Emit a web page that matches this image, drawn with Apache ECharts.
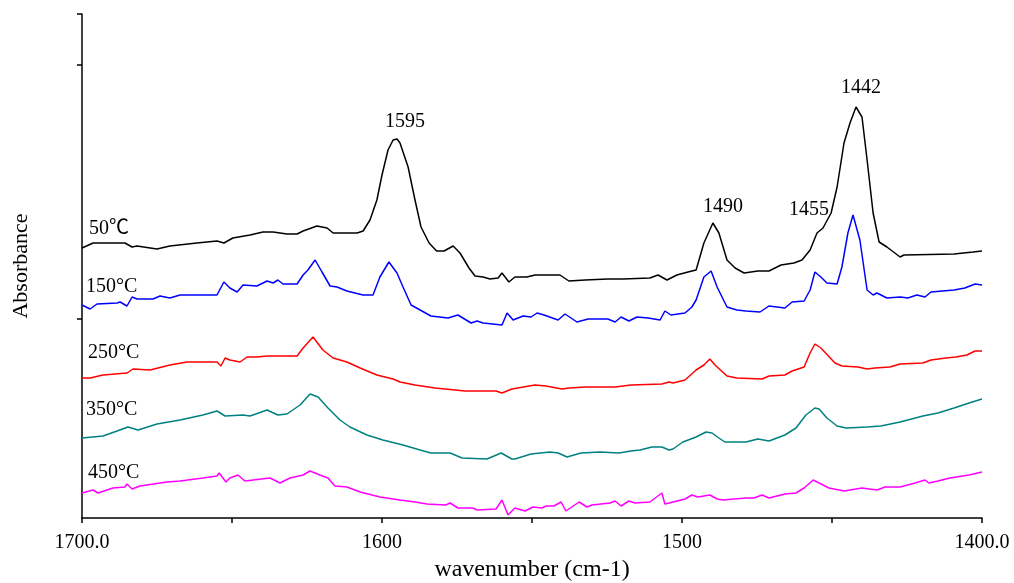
<!DOCTYPE html>
<html>
<head>
<meta charset="utf-8">
<script src="https://cdn.jsdelivr.net/npm/echarts@6/dist/echarts.min.js"></script>
<style>html,body{margin:0;padding:0;background:#fff;}#c{width:1014px;height:583px;}</style>
</head>
<body>
<div id="c"></div>
<script>
// Spectra: [wavenumber (cm-1), absorbance (offset, arbitrary units)]
const s50 = [[1700,2.70],[1696.3,2.75],[1685.7,2.75],[1683.3,2.71],[1681.7,2.72],[1675,2.69],[1670.7,2.72],[1661.7,2.75],[1655,2.77],[1652.7,2.75],[1649.7,2.80],[1644,2.83],[1639.7,2.86],[1636.3,2.86],[1631.7,2.84],[1628.3,2.84],[1626.3,2.87],[1621.7,2.92],[1618.3,2.90],[1616.3,2.85],[1608.3,2.85],[1606.3,2.87],[1604,2.98],[1601.7,3.18],[1600,3.43],[1598,3.68],[1596.3,3.78],[1595,3.79],[1594,3.75],[1591.3,3.51],[1589,3.18],[1587,2.91],[1584.3,2.75],[1581.8,2.67],[1579.3,2.67],[1576.3,2.72],[1574,2.65],[1571,2.50],[1569,2.42],[1566.3,2.41],[1564,2.39],[1561.3,2.40],[1560,2.45],[1557.7,2.36],[1555.7,2.41],[1551.7,2.41],[1549,2.43],[1540.7,2.43],[1537.7,2.37],[1532.3,2.38],[1524.7,2.39],[1519.7,2.39],[1510.7,2.40],[1508,2.43],[1505,2.38],[1501.7,2.43],[1498,2.46],[1495.3,2.48],[1492.7,2.75],[1489.7,2.95],[1487.7,2.85],[1485,2.58],[1482.3,2.50],[1479.3,2.45],[1474.7,2.47],[1471,2.47],[1467,2.53],[1462.7,2.55],[1460,2.58],[1457.3,2.68],[1455,2.85],[1453,2.90],[1450.3,3.05],[1448.3,3.31],[1446,3.75],[1444,3.95],[1442,4.11],[1440,4.01],[1438.3,3.58],[1436.3,3.05],[1434.3,2.76],[1431.7,2.71],[1427.3,2.61],[1426,2.63],[1409.3,2.64],[1403,2.66],[1400,2.67]];
const s150 = [[1700,2.13],[1697.3,2.09],[1695,2.14],[1688.3,2.15],[1687.3,2.16],[1685,2.12],[1683.3,2.21],[1681.7,2.19],[1676.3,2.19],[1674,2.22],[1670.7,2.20],[1667.3,2.23],[1655,2.23],[1652.7,2.36],[1650.7,2.30],[1648.3,2.26],[1646.3,2.33],[1641.7,2.32],[1638.3,2.37],[1636.3,2.35],[1634.7,2.38],[1633,2.34],[1628.3,2.34],[1626.3,2.43],[1624.7,2.48],[1622.3,2.58],[1620,2.46],[1617.3,2.32],[1615,2.31],[1611.7,2.27],[1606.3,2.23],[1603,2.23],[1600.7,2.41],[1597.7,2.56],[1595,2.45],[1593,2.31],[1590.3,2.13],[1583.7,2.02],[1578,2.00],[1574.7,2.03],[1570.3,1.95],[1568.3,1.97],[1566.3,1.95],[1560,1.93],[1558.3,2.05],[1556.3,1.98],[1553,2.02],[1550.3,2.01],[1548.3,2.05],[1546,2.03],[1541.3,1.98],[1539,2.04],[1535,1.96],[1531.3,1.99],[1524.7,1.99],[1522.3,1.96],[1520.3,2.01],[1517.7,1.97],[1515,2.01],[1511.3,2.00],[1507.3,1.98],[1505.7,2.07],[1503.7,2.03],[1499,2.05],[1496.7,2.11],[1495.3,2.18],[1492.7,2.41],[1490.3,2.47],[1488.3,2.31],[1485,2.11],[1481.7,2.08],[1478.7,2.07],[1474,2.06],[1471,2.12],[1465.7,2.10],[1463.3,2.16],[1459.3,2.17],[1457.3,2.28],[1455.7,2.46],[1453.7,2.41],[1451.7,2.35],[1448.3,2.34],[1446.7,2.51],[1444.7,2.85],[1443,3.03],[1440.7,2.78],[1438.3,2.28],[1436.3,2.23],[1435,2.25],[1431.7,2.20],[1427.3,2.21],[1424.7,2.20],[1421.7,2.23],[1419,2.21],[1417,2.26],[1409.3,2.28],[1405.7,2.30],[1402.3,2.34],[1400,2.33]];
const s250 = [[1700,1.40],[1697.3,1.40],[1693,1.43],[1685,1.45],[1683,1.49],[1677.3,1.48],[1670.7,1.53],[1665,1.56],[1655,1.56],[1653.7,1.52],[1652.3,1.60],[1650.7,1.58],[1647.3,1.56],[1645,1.61],[1641.7,1.61],[1638.3,1.62],[1631.7,1.62],[1628.3,1.62],[1626.3,1.70],[1623,1.81],[1619.7,1.68],[1616.3,1.60],[1611.7,1.56],[1607.3,1.50],[1601.7,1.43],[1596.3,1.39],[1594,1.36],[1589,1.33],[1582.3,1.30],[1572.3,1.27],[1562,1.27],[1560,1.25],[1556.7,1.29],[1549,1.33],[1545.3,1.32],[1540,1.29],[1537.7,1.30],[1532.3,1.31],[1522.3,1.31],[1517,1.33],[1506.7,1.34],[1504.3,1.36],[1503,1.35],[1499,1.38],[1495.3,1.48],[1492.7,1.53],[1490.7,1.59],[1489,1.53],[1485,1.42],[1481.7,1.40],[1473.3,1.39],[1471,1.42],[1465.7,1.43],[1463.3,1.47],[1459.3,1.51],[1457.3,1.65],[1455.7,1.74],[1453.7,1.70],[1449,1.55],[1446.7,1.52],[1441.3,1.51],[1438.3,1.49],[1435.7,1.50],[1430.7,1.51],[1427.3,1.54],[1419.7,1.55],[1417,1.58],[1412,1.60],[1408.7,1.61],[1405,1.63],[1402.3,1.67],[1400,1.67]];
const s350 = [[1700,0.80],[1693,0.82],[1688.3,0.87],[1684.7,0.91],[1681.3,0.88],[1675,0.94],[1667.3,0.98],[1659.7,1.03],[1655,1.07],[1652.3,1.02],[1646.3,1.03],[1644,1.02],[1638.3,1.08],[1634.7,1.03],[1631.7,1.04],[1627.3,1.13],[1624,1.24],[1621.3,1.21],[1618,1.10],[1614,0.98],[1610.7,0.91],[1605,0.83],[1599.7,0.78],[1593,0.73],[1587.3,0.68],[1583.7,0.65],[1577.3,0.65],[1573.3,0.60],[1565,0.59],[1560.3,0.65],[1556.7,0.59],[1555.7,0.59],[1550.3,0.64],[1544,0.66],[1541.3,0.65],[1538.3,0.61],[1533.7,0.65],[1527.3,0.66],[1521,0.65],[1517,0.67],[1514,0.68],[1510,0.71],[1506.7,0.71],[1504.3,0.68],[1503,0.69],[1499.7,0.76],[1495.3,0.81],[1492,0.86],[1490,0.85],[1487.7,0.80],[1485.7,0.76],[1478.7,0.76],[1474.7,0.79],[1471,0.77],[1465.7,0.83],[1462,0.90],[1458.7,1.03],[1455.7,1.10],[1454.3,1.09],[1451.7,1.00],[1448.3,0.92],[1445.3,0.90],[1438.3,0.91],[1433.7,0.92],[1427.3,0.96],[1419.7,1.02],[1414.7,1.05],[1409.3,1.10],[1404.3,1.15],[1400,1.19]];
const s450 = [[1700,0.25],[1696.3,0.28],[1694.7,0.25],[1689.7,0.30],[1685.7,0.31],[1685,0.34],[1683.3,0.29],[1680.7,0.32],[1671.7,0.36],[1667.3,0.37],[1659.7,0.40],[1655,0.42],[1654.3,0.45],[1652,0.36],[1650.7,0.40],[1648,0.43],[1645.7,0.37],[1637.3,0.40],[1634,0.35],[1630.7,0.40],[1626.3,0.43],[1624,0.47],[1620.7,0.43],[1618,0.40],[1615.7,0.32],[1611.7,0.31],[1607.3,0.26],[1600.7,0.21],[1594,0.18],[1589,0.16],[1585,0.14],[1578.7,0.13],[1577.3,0.15],[1574.7,0.10],[1569.7,0.10],[1568.3,0.08],[1562,0.09],[1560,0.18],[1558,0.03],[1555.7,0.10],[1552.3,0.07],[1549.7,0.11],[1546.7,0.10],[1545.3,0.12],[1542.7,0.12],[1540.3,0.16],[1538.7,0.07],[1534.3,0.16],[1531.7,0.11],[1530,0.13],[1524,0.15],[1522.3,0.17],[1520.3,0.12],[1517.7,0.17],[1515.7,0.15],[1510.7,0.16],[1506.7,0.25],[1505.7,0.14],[1503,0.16],[1499,0.19],[1496.7,0.23],[1494.7,0.21],[1490.7,0.23],[1488.3,0.19],[1486.3,0.18],[1478.7,0.20],[1476,0.20],[1473.3,0.23],[1471,0.20],[1465.7,0.24],[1462,0.25],[1459.3,0.30],[1456.3,0.38],[1454.3,0.35],[1451,0.30],[1446,0.27],[1440,0.30],[1435,0.28],[1432.3,0.31],[1427.3,0.31],[1422.3,0.35],[1419,0.38],[1417.7,0.35],[1414.7,0.37],[1410.7,0.40],[1404.3,0.43],[1400,0.46]];

const seriesData = [s50, s150, s250, s350, s450];
const seriesColors = ['#000000', '#0000FF', '#FF0000', '#008080', '#FF00FF'];
const tempLabels = ['50℃', '150°C', '250°C', '350°C', '450°C'];
const tempLabelX = [1697.7, 1698.7, 1698, 1698.7, 1698];
const tempLabelY = [2.89, 2.31, 1.65, 1.08, 0.45];
const peakLabels = ['1595', '1490', '1455', '1442'];
const peakLabelX = [1592.3, 1486.3, 1457.7, 1440.3];
const peakLabelY = [3.96, 3.11, 3.08, 4.30];
const xLabelValues = [1700, 1600, 1500, 1400];
const yTickValues = [1.99, 4.53, 5.04];

const FONT = "'Liberation Serif', 'Times New Roman', 'Noto Sans CJK SC', serif";

const chart = echarts.init(document.getElementById('c'), null, {renderer: 'canvas'});

const series = seriesData.map((d, i) => {
  const mpData = [{name: tempLabels[i], coord: [tempLabelX[i], tempLabelY[i]], label: {align: 'left'}}];
  if (i === 0) {
    peakLabels.forEach((t, k) => mpData.push({name: t, coord: [peakLabelX[k], peakLabelY[k]], label: {align: 'center'}}));
  }
  return {
    type: 'line',
    data: d,
    showSymbol: false,
    symbol: 'none',
    smooth: false,
    silent: true,
    lineStyle: {color: seriesColors[i], width: 1.5},
    itemStyle: {color: seriesColors[i]},
    markPoint: {
      symbol: 'circle',
      symbolSize: 1,
      silent: true,
      itemStyle: {color: 'rgba(0,0,0,0)'},
      label: {show: true, position: 'inside', color: '#000', fontFamily: FONT, fontSize: 20, verticalAlign: 'middle', formatter: p => p.name},
      data: mpData
    }
  };
});

chart.setOption({
  animation: false,
  backgroundColor: '#fff',
  grid: {left: 82, right: 32, top: 14, bottom: 65, containLabel: false, outerBoundsMode: 'none'},
  xAxis: {
    type: 'value',
    min: 1400,
    max: 1700,
    interval: 50,
    inverse: true,
    name: 'wavenumber (cm-1)',
    nameLocation: 'middle',
    nameGap: 39,
    nameTextStyle: {fontFamily: FONT, fontSize: 24, color: '#000'},
    axisLine: {show: true, onZero: false, lineStyle: {color: '#000', width: 1.5}},
    axisTick: {show: true, length: 5, lineStyle: {color: '#000', width: 1.5}},
    axisLabel: {
      show: true, customValues: xLabelValues, showMinLabel: true, showMaxLabel: true,
      margin: 15, fontFamily: FONT, fontSize: 20, color: '#000',
      formatter: v => (v === 1700 || v === 1400) ? v.toFixed(1) : String(v)
    },
    splitLine: {show: false}
  },
  yAxis: {
    type: 'value',
    min: 0,
    max: 5.04,
    name: 'Absorbance',
    nameLocation: 'middle',
    nameGap: 50,
    nameTextStyle: {fontFamily: FONT, fontSize: 22, color: '#000'},
    axisLine: {show: true, onZero: false, lineStyle: {color: '#000', width: 1.5}},
    axisTick: {show: true, length: 5, customValues: yTickValues, lineStyle: {color: '#000', width: 1.5}},
    axisLabel: {show: false},
    splitLine: {show: false}
  },
  series: series
});
</script>
</body>
</html>
